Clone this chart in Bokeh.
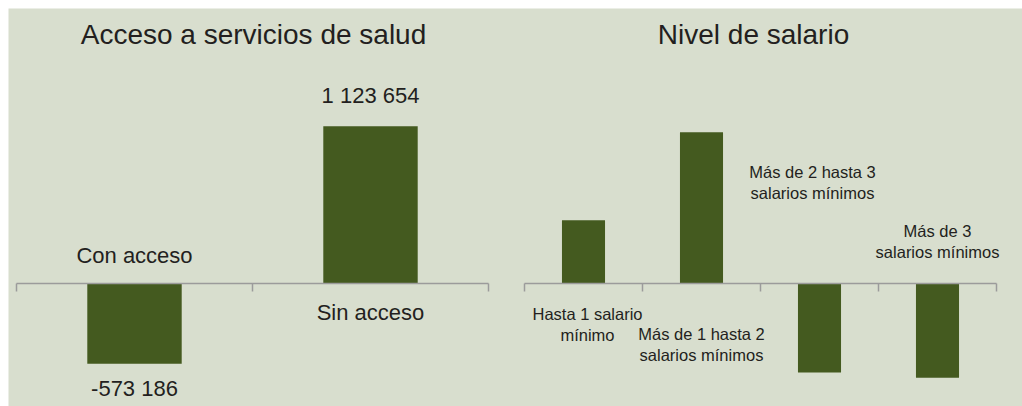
import numpy as np
from bokeh.plotting import figure
from bokeh.models import ColumnDataSource, FixedTicker, Label, Range1d, LinearAxis
from bokeh.core.properties import value
from bokeh.embed import file_html
from bokeh.resources import INLINE

# ---- data ----
salud_titulo = "Acceso a servicios de salud"
salud_categorias = ["Con acceso", "Sin acceso"]
salud_valores = [-573186, 1123654]

salario_titulo = "Nivel de salario"
salario_categorias = [
    "Hasta 1 salario\nmínimo",
    "Más de 1 hasta 2\nsalarios mínimos",
    "Más de 2 hasta 3\nsalarios mínimos",
    "Más de 3\nsalarios mínimos",
]
salario_valores = [452000, 1081000, -637000, -673000]

# ---- style / layout ----
BG = "#d8dece"
BAR = "#445a1f"
AXIS = "#9b9b9b"
TXT = "#231f20"
FONT_NAME = "Liberation Sans"
FONT = value(FONT_NAME)
W, H = 1014, 398
ZERO_PX = 275.0          # zero line, px from top of frame
UPP = 7150.0             # data units per pixel (vertical)
Y_END = ZERO_PX * UPP
Y_START = -(H - ZERO_PX) * UPP

# horizontal placement of each panel's axis within the frame: (left px, width px)
PANEL_PX = {"salud": (8, 472), "salario": (516, 472)}


def panel_range(name, n):
    left, width = PANEL_PX[name]
    ppu = width / n
    start = -left / ppu
    return Range1d(start, start + W / ppu)


p = figure(width=W, height=H, output_backend="svg", toolbar_location=None,
           x_range=panel_range("salud", len(salud_categorias)),
           y_range=Range1d(Y_START, Y_END),
           x_axis_location=None, y_axis_location=None,
           min_border_left=0, min_border_right=0, min_border_top=0, min_border_bottom=0)
p.margin = (8, 0, 0, 8)
p.extra_x_ranges = {"salario": panel_range("salario", len(salario_categorias))}
p.background_fill_color = BG
p.border_fill_color = BG
p.outline_line_color = None
p.grid.visible = False


def fmt(v):
    return f"{v:,}".replace(",", " ")


def panel(rname, title, cats, vals, bar_w, cat_size, cat_dy, cat_dx,
          show_values, title_dx):
    n = len(cats)
    xs = np.arange(n) + 0.5
    kw = {} if rname == "default" else {"x_range_name": rname}

    ax = LinearAxis(**kw)
    ax.fixed_location = 0
    ax.bounds = (0, n)
    ax.ticker = FixedTicker(ticks=list(range(n + 1)))
    ax.major_label_overrides = {i: "" for i in range(n + 1)}
    ax.axis_line_color = AXIS
    ax.axis_line_width = 1.5
    ax.major_tick_line_color = AXIS
    ax.major_tick_line_width = 1.5
    ax.major_tick_in = 0
    ax.major_tick_out = 8
    ax.minor_tick_line_color = None
    p.add_layout(ax, "below")

    src = ColumnDataSource(dict(x=xs, top=vals))
    p.vbar(x="x", top="top", width=bar_w, source=src, fill_color=BAR,
           line_color=None, **kw)

    csrc = ColumnDataSource(dict(x=xs, y=[0] * n, text=cats, dx=cat_dx, dy=cat_dy))
    p.text(x="x", y="y", text="text", x_offset="dx", y_offset="dy", source=csrc,
           text_align="center", text_baseline="middle", text_color=TXT,
           text_font=FONT, text_font_size=cat_size, text_line_height=1.2, **kw)

    if show_values:
        vsrc = ColumnDataSource(dict(x=xs, y=vals, text=[fmt(v) for v in vals],
                                     dy=[-31 if v > 0 else 25 for v in vals]))
        p.text(x="x", y="y", text="text", y_offset="dy", source=vsrc,
               text_align="center", text_baseline="middle", text_color=TXT,
               text_font=FONT, text_font_size="22px", **kw)

    p.add_layout(Label(x=n / 2, y=Y_END - 26 * UPP, text=title, x_offset=title_dx,
                       text_align="center", text_baseline="middle", text_color=TXT,
                       text_font=FONT_NAME, text_font_size="28px", **kw))


panel("default", salud_titulo, salud_categorias, salud_valores, 0.4,
      "22px", [-28, 29], [0, 0], True, 1)
panel("salario", salario_titulo, salario_categorias, salario_valores, 0.365,
      "16.5px", [41, 61, -101, -42], [4, 0, -7, 0], False, -7)

open("out.html", "w").write(file_html(p, INLINE))
